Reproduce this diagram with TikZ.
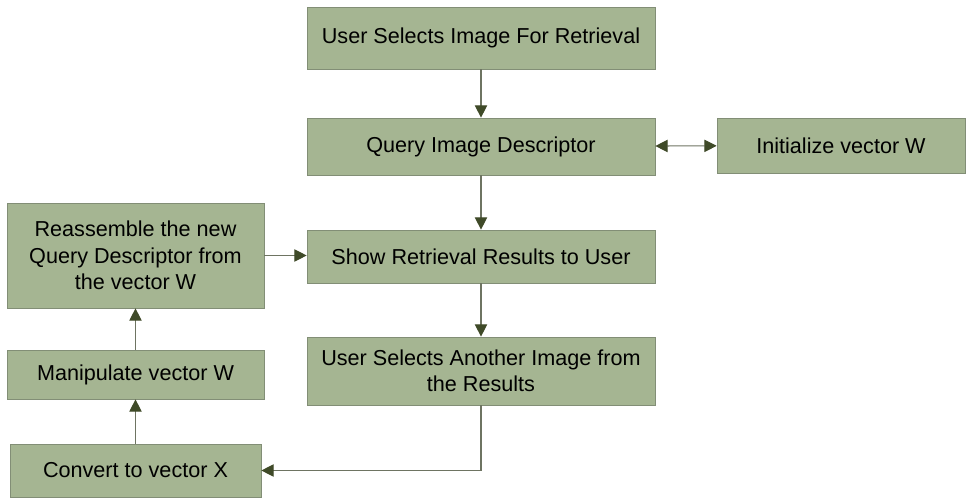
\documentclass[tikz,border=0pt]{standalone}
\usepackage{fontspec}
\setmainfont{Liberation Sans}
\usetikzlibrary{arrows.meta}

\definecolor{boxfill}{RGB}{165,181,146}
\definecolor{boxline}{RGB}{130,142,118}
\definecolor{tipcol}{RGB}{63,74,40}
\definecolor{linecol}{RGB}{110,116,98}

\tikzset{
    stage/.style={draw=boxline, fill=boxfill, inner sep=0pt, align=center,
        font=\fontsize{12.3}{15.1}\selectfont},
    flow/.style={draw=linecol, line width=0.6pt,
        -{Triangle[length=7pt, width=7pt, color=tipcol]}},
    twoway/.style={draw=linecol, line width=0.6pt,
        {Triangle[length=7pt, width=7pt, color=tipcol]}-{Triangle[length=7pt, width=7pt, color=tipcol]}}
}

\begin{document}
\begin{tikzpicture}[x=0.02cm, y=-0.02cm]

    % Fix the page size
    \useasboundingbox (0,0) rectangle (966,499);

    % Main column
    \node[stage, minimum width=6.96cm, minimum height=1.24cm] (select) at (481,38) {User Selects Image For Retrieval};
    \node[stage, minimum width=6.96cm, minimum height=1.14cm] (query) at (481,146.5) {Query Image Descriptor};
    \node[stage, minimum width=4.96cm, minimum height=1.10cm] (init) at (841,145.5) {Initialize vector W};
    \node[stage, minimum width=6.96cm, minimum height=1.06cm] (show) at (481,256.5) {Show Retrieval Results to User};
    \node[stage, minimum width=6.96cm, minimum height=1.36cm] (another) at (481,371) {User Selects Another Image from\\the Results};

    % Left column
    \node[stage, minimum width=5.14cm, minimum height=2.10cm] (reassemble) at (135.5,255.5) {Reassemble the new\\Query Descriptor from\\the vector W};
    \node[stage, minimum width=5.14cm, minimum height=0.98cm] (manip) at (135.5,374.5) {Manipulate vector W};
    \node[stage, minimum width=5.02cm, minimum height=1.06cm] (convert) at (135.5,470.5) {Convert to vector X};

    % Connectors
    \draw[flow] (select) -- (query);
    \draw[twoway] (query) -- (init);
    \draw[flow] (query) -- (show);
    \draw[flow] (show) -- (another);
    \draw[flow] (another.south) |- (convert.east);
    \draw[flow] (convert) -- (manip);
    \draw[flow] (manip) -- (reassemble);
    \draw[flow] (reassemble.east) -- (reassemble.east -| show.west);

\end{tikzpicture}
\end{document}
